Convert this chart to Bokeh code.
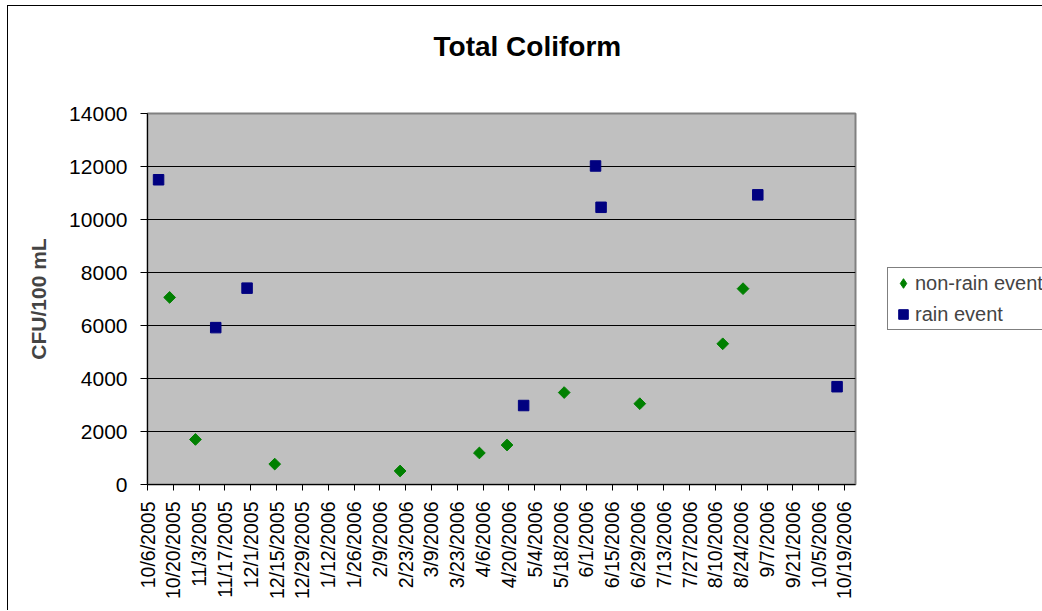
import math
import pandas as pd
from bokeh.plotting import figure
from bokeh.models import (ColumnDataSource, FixedTicker, Legend, LegendItem,
                          Range1d, Title)
from bokeh.embed import file_html
from bokeh.resources import INLINE

# ---------------- data ----------------
start_date = "10/6/2005"
tick_labels = ["10/6/2005", "10/20/2005", "11/3/2005", "11/17/2005", "12/1/2005",
               "12/15/2005", "12/29/2005", "1/12/2006", "1/26/2006", "2/9/2006",
               "2/23/2006", "3/9/2006", "3/23/2006", "4/6/2006", "4/20/2006",
               "5/4/2006", "5/18/2006", "6/1/2006", "6/15/2006", "6/29/2006",
               "7/13/2006", "7/27/2006", "8/10/2006", "8/24/2006", "9/7/2006",
               "9/21/2006", "10/5/2006", "10/19/2006"]
y_ticks = [0, 2000, 4000, 6000, 8000, 10000, 12000, 14000]

non_rain_dates = ["10/18/2005", "11/1/2005", "12/14/2005", "2/20/2006", "4/4/2006",
                  "4/19/2006", "5/20/2006", "6/30/2006", "8/14/2006", "8/25/2006"]
non_rain_vals = [7060, 1700, 770, 510, 1190, 1490, 3470, 3050, 5310, 7390]

rain_dates = ["10/12/2005", "11/12/2005", "11/29/2005", "4/28/2006", "6/6/2006",
              "6/9/2006", "9/2/2006", "10/15/2006"]
rain_vals = [11500, 5920, 7410, 2980, 12020, 10460, 10930, 3690]

x_end_date = "10/25/2006"

# ---------------- helpers ----------------
t0 = pd.to_datetime(start_date, format="%m/%d/%Y")


def days(ds):
    return [int((pd.to_datetime(d, format="%m/%d/%Y") - t0).days) for d in ds]


FONT = "Liberation Sans"
GREEN = "#008000"
NAVY = "#000080"

tick_pos = days(tick_labels)
x_max = days([x_end_date])[0]

p = figure(frame_width=708, frame_height=371, output_backend="svg", toolbar_location=None,
           min_border_left=139, min_border_right=186, min_border_top=107,
           min_border_bottom=126,
           x_range=Range1d(0, x_max), y_range=Range1d(0, 14000),
           background_fill_color="#C0C0C0", border_fill_color="white",
           styles={"margin-left": "7px", "margin-top": "5px",
                   "border-left": "1px solid black", "border-top": "1px solid black"})

p.outline_line_color = "#808080"
p.outline_line_width = 2

# grid
p.xgrid.visible = False
p.ygrid.ticker = FixedTicker(ticks=y_ticks)
p.ygrid.grid_line_color = "black"
p.ygrid.grid_line_width = 1

# y axis
p.yaxis.ticker = FixedTicker(ticks=y_ticks)
p.yaxis.axis_label = "CFU/100 mL"
p.yaxis.axis_label_text_font = FONT
p.yaxis.axis_label_text_font_style = "bold"
p.yaxis.axis_label_text_font_size = "21px"
p.yaxis.axis_label_standoff = 16
p.yaxis.major_label_text_font = FONT
p.yaxis.major_label_text_font_size = "21px"
p.yaxis.major_label_text_color = "black"
p.yaxis.major_label_standoff = 13
p.yaxis.major_tick_out = 7
p.yaxis.major_tick_in = 0
p.yaxis.minor_tick_out = 0
p.yaxis.minor_tick_in = 0
p.yaxis.axis_line_color = "black"
p.yaxis.major_tick_line_color = "black"

# x axis
p.xaxis.ticker = FixedTicker(ticks=tick_pos)
p.xaxis.major_label_overrides = {int(k): lab for k, lab in zip(tick_pos, tick_labels)}
p.xaxis.major_label_orientation = math.pi / 2
p.xaxis.major_label_text_font = FONT
p.xaxis.major_label_text_font_size = "19.5px"
p.xaxis.major_label_text_color = "black"
p.xaxis.major_label_standoff = 11
p.xaxis.major_tick_out = 6
p.xaxis.major_tick_in = 0
p.xaxis.minor_tick_out = 0
p.xaxis.minor_tick_in = 0
p.xaxis.axis_line_color = "black"
p.xaxis.major_tick_line_color = "black"

# data
src_nr = ColumnDataSource(dict(x=days(non_rain_dates), y=non_rain_vals))
src_r = ColumnDataSource(dict(x=days(rain_dates), y=rain_vals))

p.scatter("x", "y", source=src_nr, marker="square", size=8.3, angle=math.pi / 4,
          fill_color=GREEN, line_color=GREEN)
p.scatter("x", "y", source=src_r, marker="square", size=10.5,
          fill_color=NAVY, line_color=NAVY)

# hidden renderers on the same data, used only to supply the legend symbols
leg_nr = p.scatter("x", "y", source=src_nr, marker="diamond",
                   fill_color=GREEN, line_color=GREEN, visible=False)
leg_r = p.scatter("x", "y", source=src_r, marker="square",
                  fill_color=NAVY, line_color=NAVY, visible=False)

# title: spacer nearest the frame, then the real title above it
p.add_layout(Title(text=" ", text_font_size="10px", standoff=37), "above")
p.add_layout(Title(text="Total Coliform", text_font=FONT, text_font_style="bold",
                   text_font_size="28px", align="left", offset=286,
                   vertical_align="top", standoff=0, text_color="black"), "above")

legend = Legend(items=[LegendItem(label="non-rain event", renderers=[leg_nr]),
                       LegendItem(label="rain event", renderers=[leg_r])],
                location=(32, 154), label_text_font=FONT, label_text_font_size="20px",
                glyph_width=24, glyph_height=24, label_height=22, spacing=7,
                padding=3, margin=0, label_standoff=0,
                border_line_color="black", border_line_width=1,
                background_fill_color="white", background_fill_alpha=1.0)
p.add_layout(legend, "right")

open("out.html", "w").write(file_html(p, INLINE))
